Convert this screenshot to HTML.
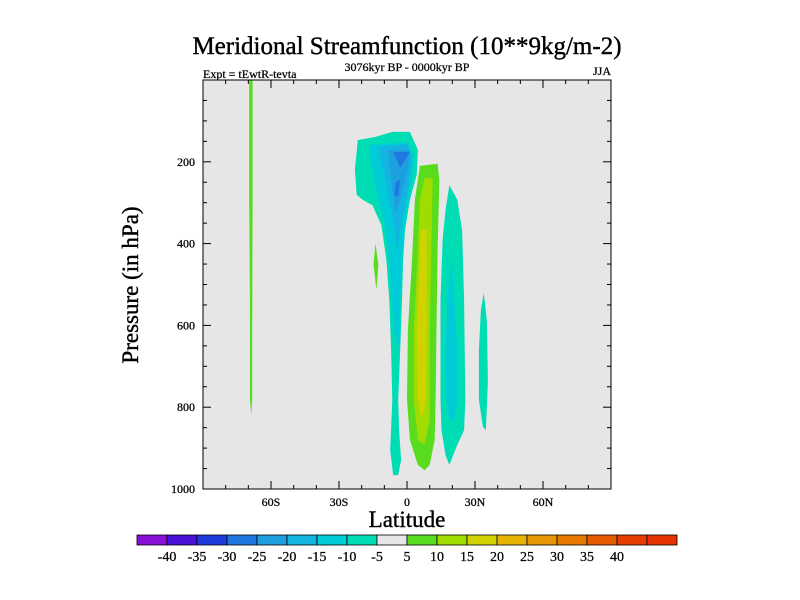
<!DOCTYPE html>
<html><head><meta charset="utf-8"><style>
html,body{margin:0;padding:0;background:#fff;}
svg{display:block;font-family:"Liberation Serif",serif;}
</style></head><body>
<svg id="chart" width="800" height="600" viewBox="0 0 800 600">
<text x="407" y="54" font-size="25" text-anchor="middle" stroke="#000" stroke-width="0.4">Meridional Streamfunction (10**9kg/m-2)</text>
<text x="203" y="78" font-size="12" stroke="#000" stroke-width="0.25">Expt = tEwtR-tevta</text>
<text x="407" y="71" font-size="12" text-anchor="middle" stroke="#000" stroke-width="0.25">3076kyr BP - 0000kyr BP</text>
<text x="611" y="75" font-size="12" text-anchor="end" stroke="#000" stroke-width="0.25">JJA</text>
<rect x="203" y="80" width="408" height="409" fill="#e6e6e6"/>
<g id="contours"></g>
<g id="axes"></g>
<text x="407" y="527" font-size="23" text-anchor="middle" stroke="#000" stroke-width="0.4">Latitude</text>
<text transform="translate(138,285) rotate(-90)" font-size="23" text-anchor="middle" stroke="#000" stroke-width="0.4">Pressure (in hPa)</text>
<g id="colorbar"></g>
</svg>
<script>
const levelColors=["#8a10d8","#4a10d8","#1e3cdc","#1e78e0","#1ea0e0","#14b4e0","#00ccd8","#00dcb4","#e6e6e6","#5adc1e","#a0dc00","#d2d200","#e6b400","#e69600","#e67800","#e65a00","#e63c00","#e63c00"];
const barColors=["#8a10d8","#4a10d8","#1e3cdc","#1e78e0","#1ea0e0","#14b4e0","#00ccd8","#00dcb4","#e6e6e6","#5adc1e","#a0dc00","#d2d200","#e6b400","#e69600","#e67800","#e65a00","#e63c00","#e63200"];
const barLabels=[-40,-35,-30,-25,-20,-15,-10,-5,5,10,15,20,25,30,35,40];
const xTicks=[-60,-30,0,30,60];
const xTickLabels=["60S","30S","0","30N","60N"];
const yTicks=[200,400,600,800,1000];
// contour regions: level (lower bound of band) and [lat, pressure] outline
const regionLevels=[5,5,-10,-15,-20,-25,-30,-30,5,10,15,-10,-15,-10];
const regionShapes=[
[[-69.6,0],[-68.1,0],[-68.1,293],[-68.3,660],[-68.3,782],[-68.7,819],[-69.3,782],[-69.3,538],[-69.6,293]],
[[-13.9,399],[-12.6,452],[-13.5,513],[-14.8,452]],
[[-21.7,147],[-13.9,139],[-6.5,127],[1.3,127],[4.8,171],[4.3,232],[1.3,293],[-0.9,367],[-1.7,440],[-2.2,538],[-3,660],[-3.9,782],[-3.5,856],[-2.6,929],[-3.9,966],[-6.1,966],[-7.4,905],[-6.5,782],[-7,660],[-7.8,538],[-9.1,440],[-11.3,355],[-15.2,306],[-19.6,293],[-22.2,281],[-23,220]],
[[-17,159],[-0.9,152],[3,183],[2.2,245],[-0.9,342],[-2.2,440],[-3,538],[-3.5,653],[-5.7,611],[-7,513],[-8.3,416],[-10.4,342],[-13.9,257],[-16.1,196]],
[[-12.6,164],[0.4,156],[2.2,196],[0.4,269],[-2.2,342],[-4.3,416],[-5.7,355],[-8.3,281],[-10.9,208]],
[[-8.3,171],[1.3,171],[0.4,220],[-3,293],[-5.2,330],[-6.5,257],[-7.8,208]],
[[-6.1,176],[1.3,176],[-3,215]],
[[-4.8,249],[-3,244],[-3.9,286],[-5.7,281]],
[[5.7,210],[13.5,205],[14.3,245],[13.5,416],[13,611],[12.6,782],[12.2,880],[10,941],[7.8,954],[4.8,941],[1.3,880],[0,782],[0.4,611],[2.2,440],[3.5,293]],
[[7.8,240],[11.3,240],[10.9,367],[10,611],[10,831],[7.8,892],[4.8,880],[3,782],[3,611],[4.8,416],[5.7,293]],
[[6.1,367],[8.7,367],[8.7,611],[8.3,782],[6.5,831],[4.8,782],[4.3,611],[5.2,489]],
[[18.7,257],[22.2,293],[24.3,367],[25.2,538],[25.7,782],[25.2,856],[22.2,892],[18.7,941],[17,917],[15.2,856],[14.8,782],[14.8,538],[15.7,391],[17,318]],
[[19.6,440],[20.9,538],[22.2,660],[22.2,782],[20.9,831],[18.7,831],[17.4,782],[17,660],[17.8,538]],
[[33.9,521],[35.2,587],[35.7,734],[34.8,856],[33.5,848],[31.7,782],[31.7,660],[32.6,562]]
];
const NS="http://www.w3.org/2000/svg";
const X0=203,X1=611,Y0=80,Y1=489;
function xs(lat){return X0+(lat+90)/180*(X1-X0);}
function ys(p){return Y0+p/1000*(Y1-Y0);}
function colorFor(l){const idx=l<0?Math.floor((l+45)/5):Math.floor((l-5)/5)+9;return levelColors[Math.max(0,Math.min(17,idx))];}
const cg=document.getElementById('contours');
regionShapes.forEach((sh,i)=>{
  const p=document.createElementNS(NS,'polygon');
  p.setAttribute('points',sh.map(q=>xs(q[0]).toFixed(1)+','+ys(q[1]).toFixed(1)).join(' '));
  p.setAttribute('fill',colorFor(regionLevels[i]));
  p.setAttribute('stroke-linejoin','round');
  
  
  cg.appendChild(p);
});
const ag=document.getElementById('axes');
function line(x1,y1,x2,y2,w){const l=document.createElementNS(NS,'line');l.setAttribute('x1',x1);l.setAttribute('y1',y1);l.setAttribute('x2',x2);l.setAttribute('y2',y2);l.setAttribute('stroke','#000');l.setAttribute('stroke-width',w||1);ag.appendChild(l);return l;}
const fr=document.createElementNS(NS,'rect');
fr.setAttribute('x',X0);fr.setAttribute('y',Y0);fr.setAttribute('width',X1-X0);fr.setAttribute('height',Y1-Y0);fr.setAttribute('fill','none');fr.setAttribute('stroke','#000');


ag.appendChild(fr);
for(let lat=-80;lat<=80;lat+=10){const maj=lat%30===0;const x=xs(lat);line(x,Y1,x,Y1-(maj?8:4));line(x,Y0,x,Y0+(maj?8:4));}
xTicks.forEach((v,i)=>{const t=document.createElementNS(NS,'text');t.setAttribute('x',xs(v));t.setAttribute('y',Y1+17);t.setAttribute('font-size','12');t.setAttribute('text-anchor','middle');t.setAttribute('stroke','#000');t.setAttribute('stroke-width','0.25');t.textContent=xTickLabels[i];


ag.appendChild(t);});
for(let p=50;p<1000;p+=50){const maj=p%200===0;const y=ys(p);line(X0,y,X0+(maj?8:4),y);line(X1,y,X1-(maj?8:4),y);}
yTicks.forEach(v=>{const t=document.createElementNS(NS,'text');t.setAttribute('x',X0-8);t.setAttribute('y',ys(v)+4);t.setAttribute('font-size','12');t.setAttribute('text-anchor','end');t.setAttribute('stroke','#000');t.setAttribute('stroke-width','0.25');t.textContent=v;


ag.appendChild(t);});
const bg=document.getElementById('colorbar');
const BX=137,BW=30,BY=535,BH=10;
barColors.forEach((c,i)=>{const r=document.createElementNS(NS,'rect');r.setAttribute('x',BX+i*BW);r.setAttribute('y',BY);r.setAttribute('width',BW);r.setAttribute('height',BH);r.setAttribute('fill',c);r.setAttribute('stroke','#000');r.setAttribute('stroke-width','0.8');


bg.appendChild(r);});
barLabels.forEach((v,i)=>{const t=document.createElementNS(NS,'text');t.setAttribute('x',BX+(i+1)*BW);t.setAttribute('y',BY+BH+16);t.setAttribute('font-size','14');t.setAttribute('text-anchor','middle');t.setAttribute('stroke','#000');t.setAttribute('stroke-width','0.25');t.textContent=v;


bg.appendChild(t);});
</script>
</body></html>
